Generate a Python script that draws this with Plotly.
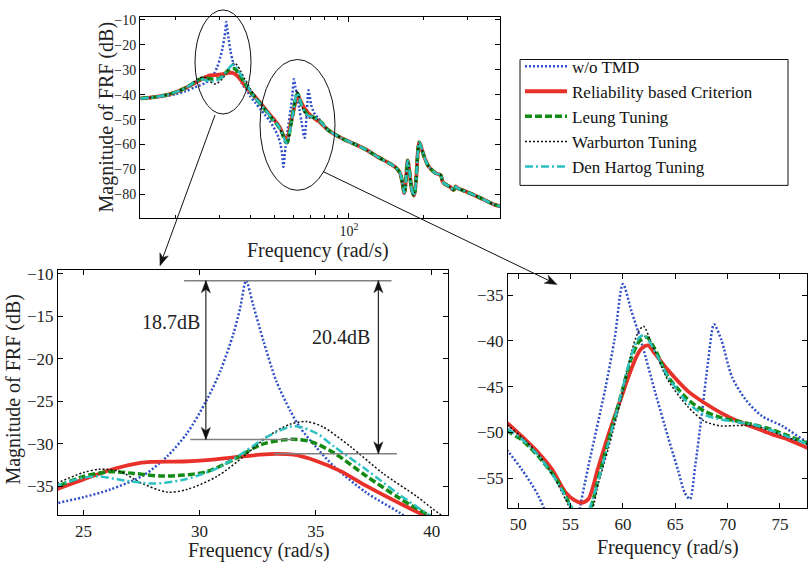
import math
import plotly.graph_objects as go

W, H = 808, 564
FONT = "Liberation Serif"

# ---------------- FRF magnitude data (frequency in rad/s, magnitude in dB) ----------------
# low-frequency segment, identical for all tuned systems
head_freq = [14.45, 16, 18, 20, 22]
head_tuned_db = [-41.5, -41.1, -40.3, -39.0, -37.2]
head_plain_db = [-41.6, -41.3, -40.7, -39.8, -38.6]

# high-frequency segment, common to every configuration
tail_freq = [82, 87, 95, 106, 118, 131, 145, 155, 161, 164.5, 167.5, 170, 172.7, 175.5, 179,
             183, 186.5, 189.5, 192, 195, 200, 209, 224, 235, 238.5, 243, 256, 265, 270, 276,
             298, 336, 384, 410]
tail_db = [-54.0, -55.7, -57.8, -59.9, -62.2, -65.0, -67.4, -69.3, -71.5, -75.5, -79.5, -74.0,
           -66.4, -70.5, -77.5, -80.5, -75.0, -64.0, -59.1, -60.5, -64.0, -68.5, -71.5, -72.3,
           -74.8, -75.7, -77.0, -78.2, -76.8, -77.6, -78.9, -81.2, -84.0, -84.8]

# w/o TMD
plain_freq = [23.9, 25.0, 26.15, 27.6, 28.6, 29.45, 30.3, 30.9, 31.45, 31.75, 32.0, 32.3, 32.75,
              33.3, 33.9, 34.3, 35.0, 35.8, 37.2, 38.6, 40.0, 42.0, 44.0, 46.0, 48.0, 49.1, 50.3,
              51.9, 53.0, 53.8, 54.4, 55.0, 55.5, 55.9, 56.7, 58.3, 59.2, 60.0, 60.8, 61.8, 63.05,
              64.3, 65.3, 65.9, 66.4, 66.9, 67.5, 68.15, 68.7, 69.4, 70.4, 71.7, 73.25, 75.2, 77.6]
plain_db = [-37.0, -36.3, -35.4, -33.7, -31.5, -28.8, -24.9, -21.4, -17.1, -14.0, -10.8, -13.6,
            -17.9, -22.6, -26.1, -28.0, -30.35, -32.7, -35.8, -38.1, -40.6, -43.3, -45.9, -48.3,
            -50.6, -52.2, -54.0, -56.9, -60.0, -64.0, -69.0, -65.0, -61.0, -58.2, -53.7, -45.3,
            -39.8, -33.8, -36.7, -40.3, -45.5, -50.5, -54.3, -56.6, -57.3, -53.7, -48.3, -42.1,
            -38.2, -39.9, -43.9, -46.4, -48.2, -49.3, -51.1]

# Reliability based criterion
rel_freq = [23.9, 25.0, 26.15, 27.15, 27.9, 29.3, 30.45, 31.45, 32.6, 33.3, 34.05, 35.0, 36.05,
            37.2, 38.6, 39.8, 42.0, 44.0, 46.0, 48.0, 49.1, 50.3, 51.9, 53.2, 54.5, 55.4, 56.05,
            56.7, 57.6, 58.6, 59.9, 60.5, 61.3, 61.8, 62.4, 63.05, 64.3, 66.2, 67.8, 69.4, 71.0,
            72.6, 74.2, 75.8, 77.6]
rel_db = [-35.3, -34.2, -33.1, -32.4, -32.15, -32.1, -31.9, -31.6, -31.3, -31.2, -31.3, -32.0,
          -33.2, -35.0, -37.0, -38.6, -41.0, -43.4, -45.8, -48.0, -49.15, -50.4, -52.2, -54.0,
          -56.55, -57.45, -57.7, -57.3, -54.0, -50.3, -46.0, -44.0, -41.7, -40.8, -40.5, -41.4,
          -43.2, -45.5, -46.8, -47.9, -48.8, -49.5, -50.2, -50.8, -51.7]

# Leung tuning
leung_freq = [23.9, 25.0, 26.15, 27.15, 28.3, 29.3, 30.3, 31.45, 32.6, 33.6, 34.2, 34.8, 35.8,
              37.2, 38.6, 40.05, 42.0, 44.0, 46.0, 48.0, 49.1, 50.3, 51.9, 53.5, 54.5, 55.1, 55.9,
              56.5, 57.0, 57.6, 58.6, 59.9, 60.8, 61.6, 62.25, 63.05, 64.3, 66.2, 67.8, 69.4, 71.0,
              72.6, 74.2, 75.8, 77.6]
leung_db = [-35.0, -33.85, -33.3, -33.5, -33.8, -33.7, -33.3, -31.9, -30.15, -29.55, -29.5, -29.75,
            -31.1, -33.85, -36.4, -38.7, -41.3, -43.8, -46.2, -48.5, -49.9, -50.8, -52.6, -54.9,
            -56.9, -58.3, -59.2, -59.0, -58.0, -55.3, -51.0, -45.6, -41.9, -40.0, -39.6, -40.9,
            -43.9, -46.4, -47.7, -48.4, -48.8, -49.2, -49.7, -50.4, -51.2]

# Warburton tuning
warb_freq = [23.9, 25.0, 25.7, 26.6, 27.45, 28.6, 29.45, 30.75, 31.9, 32.9, 33.9, 34.6, 35.3,
             36.5, 37.9, 39.35, 40.35, 42.0, 44.0, 46.0, 48.0, 49.1, 50.3, 51.9, 53.5, 54.5, 55.3,
             56.2, 56.9, 57.3, 57.6, 58.6, 59.9, 60.8, 61.4, 61.95, 62.75, 64.3, 66.2, 67.8, 69.4,
             71.0, 72.6, 74.2, 75.8, 77.6]
warb_db = [-34.6, -33.4, -33.0, -33.3, -34.6, -35.7, -35.4, -33.85, -31.5, -29.2, -27.7, -27.4,
           -28.0, -30.35, -33.5, -36.2, -38.3, -40.9, -43.3, -45.7, -48.0, -49.3, -50.5, -52.4,
           -55.1, -57.3, -59.0, -59.8, -59.0, -57.5, -55.8, -51.8, -46.0, -41.3, -39.2, -38.4,
           -40.3, -44.3, -47.2, -48.8, -49.3, -49.25, -49.3, -49.9, -50.6, -51.3]

# Den Hartog tuning
dh_freq = [23.9, 25.0, 25.7, 26.45, 28.0, 29.3, 30.75, 31.75, 32.9, 33.9, 34.3, 35.05, 35.8, 37.2,
           38.6, 40.2, 42.0, 44.0, 46.0, 48.0, 49.1, 50.3, 51.9, 53.5, 54.5, 55.3, 56.0, 56.6,
           57.6, 58.6, 59.9, 60.8, 61.5, 62.0, 62.8, 64.3, 66.2, 67.8, 69.4, 71.0, 72.6, 74.2,
           75.8, 77.6]
dh_db = [-34.9, -34.0, -33.85, -34.2, -34.7, -34.25, -32.9, -31.3, -29.2, -28.0, -28.0, -28.8,
         -30.35, -33.1, -36.0, -38.9, -41.4, -43.8, -46.1, -48.4, -49.7, -50.7, -52.5, -55.0,
         -57.0, -58.6, -59.3, -58.8, -55.4, -51.2, -45.5, -41.6, -39.7, -39.4, -40.6, -43.9,
         -46.8, -48.1, -48.6, -48.9, -49.2, -49.8, -50.5, -51.3]

series_names = ["w/o TMD", "Reliability based Criterion", "Leung Tuning",
                "Warburton Tuning", "Den Hartog Tuning"]
series_data = [
    (head_freq + plain_freq + tail_freq, head_plain_db + plain_db + tail_db),
    (head_freq + rel_freq + tail_freq, head_tuned_db + rel_db + tail_db),
    (head_freq + leung_freq + tail_freq, head_tuned_db + leung_db + tail_db),
    (head_freq + warb_freq + tail_freq, head_tuned_db + warb_db + tail_db),
    (head_freq + dh_freq + tail_freq, head_tuned_db + dh_db + tail_db),
]
series_style = [
    dict(color="#3050c8", width=2.5, dash="2px,2px"),
    dict(color="#e8312a", width=3.8, dash="solid"),
    dict(color="#138a13", width=3.5, dash="7px,3px"),
    dict(color="#111111", width=1.5, dash="2px,2px"),
    dict(color="#2cc0c0", width=2.5, dash="8px,3px,2px,3px"),
]

# peak levels used for the reduction callouts
peak_plain = max(plain_db)
peak_leung = max(leung_db)
peak_rel = max(rel_db)


def px(xp):
    return xp / W


def py(yp):
    return 1 - yp / H


def arrow_head(xa, ya, xref, yref, dx, dy, length=12, half=4.5, notch=0.72):
    """Filled, notched arrow head (pixel-sized) with its tip at (xa, ya), pointing along (dx, dy)."""
    n = math.hypot(dx, dy)
    ux, uy = dx / n, dy / n
    bx, by = -length * ux, -length * uy
    nx, ny = -uy, ux
    path = (f"M0,0 L{bx + half * nx:.2f},{by + half * ny:.2f} "
            f"L{notch * bx:.2f},{notch * by:.2f} "
            f"L{bx - half * nx:.2f},{by - half * ny:.2f} Z")
    return dict(type="path", xref=xref, yref=yref, xsizemode="pixel", ysizemode="pixel",
                xanchor=xa, yanchor=ya, path=path, fillcolor="#111",
                line=dict(color="#111", width=0.5))


fig = go.Figure()
for panel, (xa, ya) in enumerate([("x", "y"), ("x2", "y2"), ("x3", "y3")]):
    for name, (f, m), st in zip(series_names, series_data, series_style):
        fig.add_trace(go.Scatter(
            x=f, y=m, name=name, mode="lines", xaxis=xa, yaxis=ya,
            line=dict(color=st["color"], width=st["width"], dash=st["dash"],
                      shape="spline", smoothing=0.8),
            showlegend=(panel == 0), hoverinfo="skip"))

axis_base = dict(showline=True, linecolor="black", linewidth=1, mirror="ticks",
                 ticks="inside", ticklen=5, tickcolor="black", showgrid=False,
                 zeroline=False)
tick_small = dict(family=FONT, size=14, color="#222")
tick_big = dict(family=FONT, size=17, color="#222")

fig.update_layout(
    width=W, height=H, margin=dict(l=0, r=0, t=0, b=0),
    paper_bgcolor="white", plot_bgcolor="white",
    font=dict(family=FONT, color="#222"),
    xaxis=dict(axis_base, type="log", range=[1.157, 2.61], domain=[px(140), px(500)],
               anchor="y", tickvals=[100], ticktext=["10<sup>2</sup>"], tickfont=tick_small,
               minor=dict(tickvals=[20, 30, 40, 50, 60, 70, 80, 90, 200, 300],
                          ticks="inside", ticklen=3, tickcolor="black")),
    yaxis=dict(axis_base, range=[-89.5, -8.8], domain=[py(215), py(12)], anchor="x",
               tickvals=[-80, -70, -60, -50, -40, -30, -20, -10], tickfont=tick_small),
    xaxis2=dict(axis_base, range=[23.9, 40.7], domain=[px(58), px(448)], anchor="y2",
                tickvals=[25, 30, 35, 40], tickfont=tick_big),
    yaxis2=dict(axis_base, range=[-38.45, -9.5], domain=[py(515), py(267)], anchor="x2",
                tickvals=[-35, -30, -25, -20, -15, -10], tickfont=tick_big),
    xaxis3=dict(axis_base, range=[49.02, 77.58], domain=[px(508), px(807)], anchor="y3",
                tickvals=[50, 55, 60, 65, 70, 75], tickfont=tick_big),
    yaxis3=dict(axis_base, range=[-58.33, -32.65], domain=[py(508), py(271)], anchor="x3",
                tickvals=[-55, -50, -45, -40, -35], tickfont=tick_big),
    legend=dict(x=px(520), y=py(44), xanchor="left", yanchor="top",
                borderwidth=0, bgcolor="rgba(0,0,0,0)",
                font=dict(family=FONT, size=17, color="#111"), itemwidth=42,
                tracegroupgap=0),
)

title_font = dict(family=FONT, size=20, color="#222")
annotations = [
    dict(text="Magnitude of FRF (dB)", x=px(106), y=py(113.5), textangle=-90),
    dict(text="Frequency (rad/s)", x=px(318), y=py(248)),
    dict(text="Magnitude of FRF (dB)", x=px(14), y=py(388), textangle=-90),
    dict(text="Frequency (rad/s)", x=px(259), y=py(550)),
    dict(text="Frequency (rad/s)", x=px(668), y=py(547)),
]
annotations = [dict(a, xref="paper", yref="paper", showarrow=False, font=title_font,
                    xanchor="center", yanchor="middle") for a in annotations]

# reduction labels in the 24-40 rad/s zoom
callout_font = dict(family=FONT, size=20, color="#222")
annotations += [
    dict(text=f"{peak_plain - peak_leung:.1f}dB", x=28.75, y=-15.7, xref="x2", yref="y2",
         showarrow=False, font=callout_font),
    dict(text=f"{peak_plain - peak_rel:.1f}dB", x=36.1, y=-17.4, xref="x2", yref="y2",
         showarrow=False, font=callout_font),
]
fig.update_layout(annotations=annotations)

gray = dict(color="#808080", width=1.5)
dark = dict(color="#111", width=1.1)
shapes = [
    # legend frame
    dict(type="rect", xref="paper", yref="paper", x0=px(520), x1=px(788),
         y0=py(182), y1=py(55), line=dict(color="#111", width=1)),
    # magnified regions
    dict(type="circle", xref="paper", yref="paper", x0=px(195), x1=px(251),
         y0=py(110), y1=py(5), line=dict(color="#111", width=1)),
    dict(type="circle", xref="paper", yref="paper", x0=px(260), x1=px(335),
         y0=py(187), y1=py(55), line=dict(color="#111", width=1)),
    # pointers from the regions to the zoom panels
    dict(type="line", xref="paper", yref="paper", x0=px(215), y0=py(111),
         x1=px(161), y1=py(260), line=dict(color="#111", width=1)),
    arrow_head(px(160), py(263), "paper", "paper", -55, -152),
    dict(type="line", xref="paper", yref="paper", x0=px(323), y0=py(168),
         x1=px(554), y1=py(280.5), line=dict(color="#111", width=1)),
    arrow_head(px(557), py(282), "paper", "paper", 234, -114),
    # peak reference levels
    dict(type="line", xref="x2", yref="y2", x0=29.33, x1=38.27, y0=peak_plain, y1=peak_plain,
         line=gray),
    dict(type="line", xref="x2", yref="y2", x0=29.6, x1=34.1, y0=peak_leung, y1=peak_leung,
         line=gray),
    dict(type="line", xref="x2", yref="y2", x0=33.2, x1=38.5, y0=peak_rel, y1=peak_rel,
         line=gray),
    # double-headed reduction arrows
    dict(type="line", xref="x2", yref="y2", x0=30.27, x1=30.27, y0=peak_leung, y1=peak_plain,
         line=dark),
    arrow_head(30.27, peak_plain, "x2", "y2", 0, 1),
    arrow_head(30.27, peak_leung, "x2", "y2", 0, -1),
    dict(type="line", xref="x2", yref="y2", x0=37.7, x1=37.7, y0=peak_rel, y1=peak_plain,
         line=dark),
    arrow_head(37.7, peak_plain, "x2", "y2", 0, 1),
    arrow_head(37.7, peak_rel, "x2", "y2", 0, -1),
]
fig.update_layout(shapes=shapes)

fig.write_html("out.html")
